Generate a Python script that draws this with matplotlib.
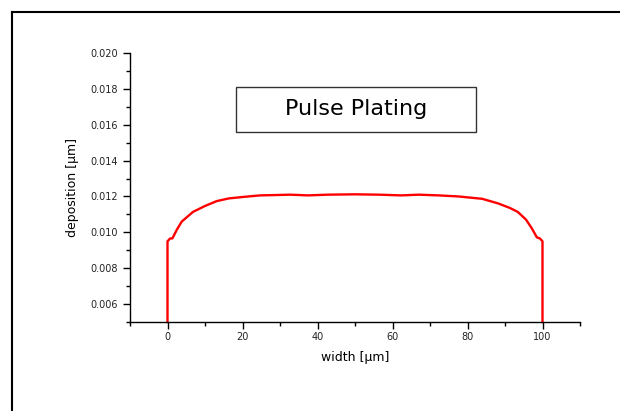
import numpy as np
import matplotlib
matplotlib.use("Agg")
import matplotlib.pyplot as plt
from matplotlib.lines import Line2D
from matplotlib.patches import Rectangle
from matplotlib.ticker import MultipleLocator

plt.rcParams['font.family'] = ['DejaVu Sans']

# profile: width in um, deposition in um
width = [0, 0, 0.7, 1.3, 2.5, 3.8, 6.8, 9.9, 13.1, 16.3, 20.5, 24.7, 29.0, 32.7,
         37.4, 42.7, 50.0, 56.4, 62.3, 67.0, 72.3, 77.6, 83.9, 88.2, 91.3, 93.4,
         95.6, 97.1, 98.5, 99.3, 100, 100]
deposition = [0.005, 0.0095, 0.00966, 0.00966, 0.01015, 0.0106, 0.01114, 0.01146,
              0.01174, 0.01189, 0.01198, 0.01206, 0.01208, 0.0121, 0.01206, 0.0121,
              0.01212, 0.0121, 0.01206, 0.0121, 0.01206, 0.0120, 0.01187, 0.01161,
              0.01136, 0.01114, 0.01071, 0.01024, 0.00972, 0.00966, 0.0095, 0.005]
title = "Pulse Plating"

fig = plt.figure(figsize=(6.2, 4.11), dpi=100)

# page frame (only left and top edges are visible)
fig.add_artist(Line2D([12/620, 12/620], [0, 1 - 12/411], color='black', lw=1.5))
fig.add_artist(Line2D([12/620, 1], [1 - 12/411, 1 - 12/411], color='black', lw=1.5))

ax = fig.add_axes([130/620, 1 - 322/411, 450/620, 269/411])
ax.plot(width, deposition, color='red', lw=1.7, clip_on=False)

ax.set_xlim(-10, 110)
ax.set_ylim(0.005, 0.020)
ax.xaxis.set_major_locator(MultipleLocator(20))
ax.xaxis.set_minor_locator(MultipleLocator(10))
ax.yaxis.set_major_locator(MultipleLocator(0.002))
ax.yaxis.set_minor_locator(MultipleLocator(0.001))
ax.set_yticks(np.arange(0.006, 0.0201, 0.002))
ax.set_xticks(np.arange(0, 101, 20))
ax.yaxis.set_major_formatter(plt.FormatStrFormatter('%.3f'))

ax.spines['top'].set_visible(False)
ax.spines['right'].set_visible(False)
for s in ['left', 'bottom']:
    ax.spines[s].set_linewidth(1.0)
ax.tick_params(which='major', direction='out', length=5, width=1.0, labelsize=7,
               colors='black', labelcolor='#222222')
ax.tick_params(which='minor', direction='out', length=3, width=1.0)
ax.tick_params(axis='x', pad=2.5)

ax.set_xlabel("width [\u03bcm]", fontsize=9, labelpad=6)
ax.set_ylabel("deposition [\u03bcm]", fontsize=9, labelpad=8)

# title box inside the plot area
ax.add_patch(Rectangle((0.2356, 0.706), 0.5334, 0.168, transform=ax.transAxes,
                       facecolor='white', edgecolor='#333333', lw=1.0))
ax.text(0.502, 0.79, title, transform=ax.transAxes, ha='center', va='center',
        fontsize=16)

fig.savefig("out.png", dpi=100)
